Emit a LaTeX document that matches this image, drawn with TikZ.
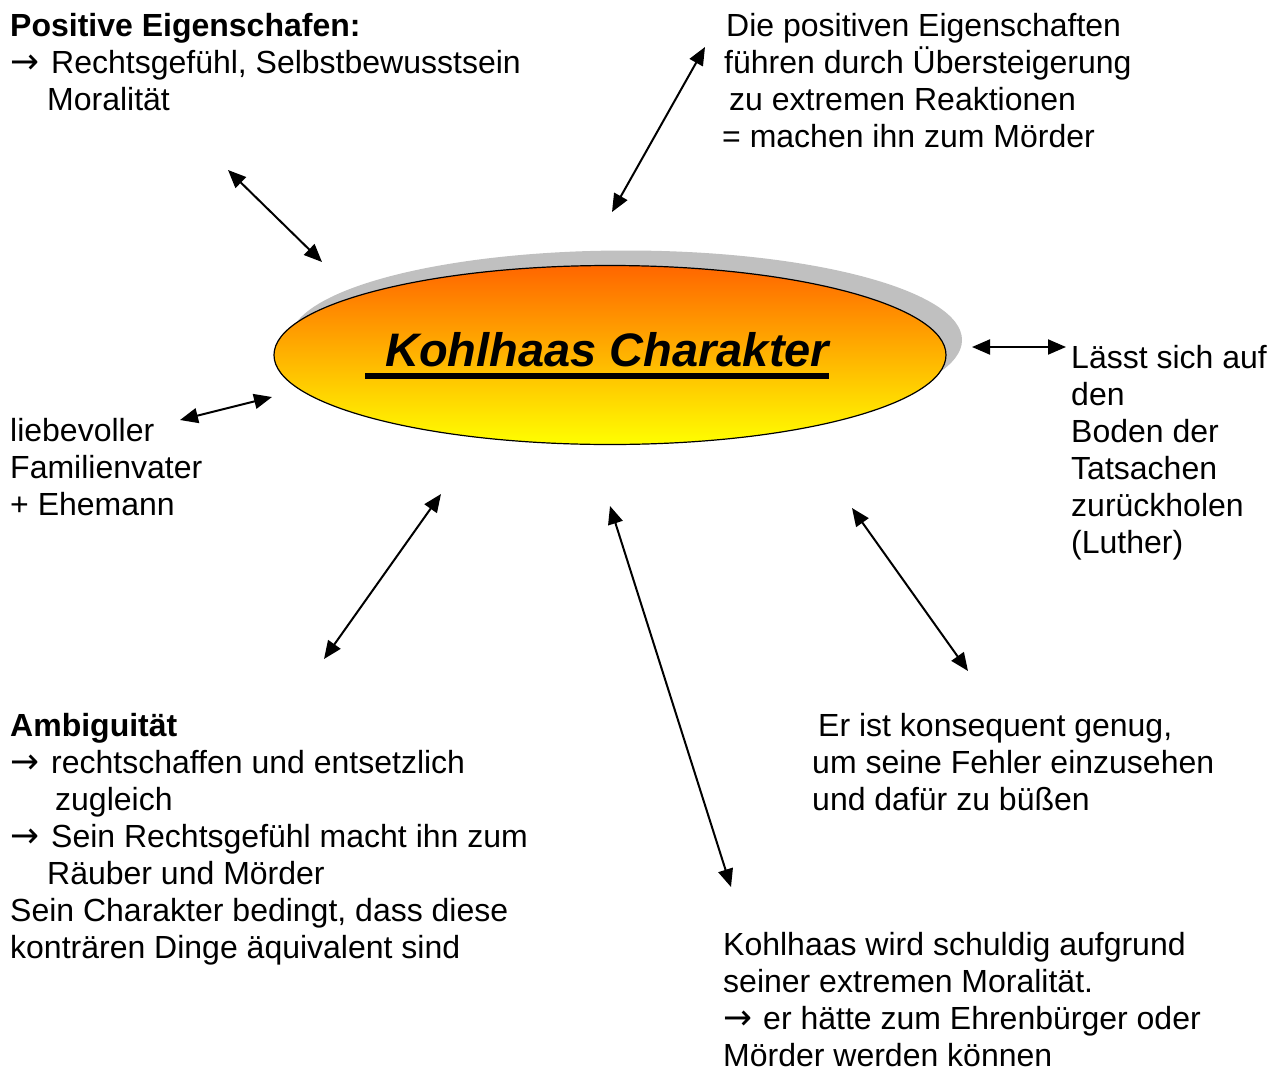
\documentclass[tikz,border=0pt]{standalone}
\usepackage{fontspec}
\setmainfont{Liberation Sans}
\newfontfamily\arrowfont{DejaVu Sans}
\usetikzlibrary{shapes.geometric,arrows.meta,calc}
\definecolor{shadowgray}{RGB}{192,192,192}
\definecolor{topor}{RGB}{255,102,0}
\definecolor{botyel}{RGB}{255,255,0}
\newcommand\txl[1]{\hbox{#1}}
\newcommand\blk[1]{\vtop{\baselineskip=37pt\lineskiplimit=-1000pt\lineskip=0pt #1}}
\newcommand\arrglyph{{\arrowfont\scalebox{1.08}[1.1]{→}}}
\newcommand\arr{\makebox[41pt][l]{\arrglyph}}
\tikzset{
  body/.style={anchor=base west, inner sep=0pt, font=\fontsize{32}{37}\selectfont},
  link/.style={line width=2pt, {Triangle[length=18pt,width=15pt]}-{Triangle[length=18pt,width=15pt]}},
  oval/.style={ellipse, minimum width=672pt, minimum height=179pt, inner sep=0pt},
}
\begin{document}
\begin{tikzpicture}[x=1pt,y=-1pt]
\useasboundingbox[fill=white] (0,0) rectangle (1282,1071);
% central ellipse
\node[oval, fill=shadowgray] (shadow) at (626,340) {};
\node[oval, draw=black, line width=1.2pt, top color=topor, bottom color=botyel] (main) at (610,355) {};
\node[anchor=base west, inner sep=0pt, font=\fontsize{47}{54}\selectfont\bfseries\itshape] (title) at (385,366) {Kohlhaas Charakter};
\draw[line width=6pt] ($(title.base west)+(-20,10)$) coordinate (ulA) -- ($(title.base east)+(0,10)$) coordinate (ulB);
% text blocks
\node[body] (tl) at (10,36) {\blk{\txl{\bfseries Positive Eigenschafen:}\txl{\arr Rechtsgefühl, Selbstbewusstsein}\txl{\hspace*{37pt}Moralität}}};
\node[body] (tr) at (722,36) {\blk{\txl{\hspace*{4pt}Die positiven Eigenschaften}\txl{\hspace*{2pt}führen durch Übersteigerung}\txl{\hspace*{7pt}zu extremen Reaktionen}\txl{= machen ihn zum Mörder}}};
\node[body] (rt) at (1071,368) {\blk{\txl{Lässt sich auf}\txl{den}\txl{Boden der}\txl{Tatsachen}\txl{zurückholen}\txl{(Luther)}}};
\node[body] (lf) at (10,441) {\blk{\txl{liebevoller}\txl{Familienvater}\txl{+ Ehemann}}};
\node[body] (amb) at (10,736) {\blk{\txl{\bfseries Ambiguität}\txl{\arr rechtschaffen und entsetzlich}\txl{\hspace*{45pt}zugleich}\txl{\arr Sein Rechtsgefühl macht ihn zum}\txl{\hspace*{37pt}Räuber und Mörder}\txl{Sein Charakter bedingt, dass diese}\txl{konträren Dinge äquivalent sind}}};
\node[body] (er) at (812,736) {\blk{\txl{\hspace*{6pt}Er ist konsequent genug,}\txl{um seine Fehler einzusehen}\txl{und dafür zu büßen}}};
\node[body] (bt) at (723,955) {\blk{\txl{Kohlhaas wird schuldig aufgrund}\txl{seiner extremen Moralität.}\txl{\makebox[40pt][l]{\arrglyph}er hätte zum Ehrenbürger oder}\txl{Mörder werden können}}};
% arrow end points
\coordinate (a1s) at (228,170); \coordinate (a1e) at (322,262);
\coordinate (a2s) at (705,47);  \coordinate (a2e) at (612,212);
\coordinate (a3s) at (972,347); \coordinate (a3e) at (1066,347);
\coordinate (a4s) at (180,420); \coordinate (a4e) at (272,397);
\coordinate (a5s) at (441,494); \coordinate (a5e) at (324,659);
\coordinate (a6s) at (610,506); \coordinate (a6e) at (731,887);
\coordinate (a7s) at (852,508); \coordinate (a7e) at (968,671);
\draw[link] (a1s) -- (a1e);
\draw[link] (a2s) -- (a2e);
\draw[link] (a3s) -- (a3e);
\draw[link] (a4s) -- (a4e);
\draw[link] (a5s) -- (a5e);
\draw[link] (a6s) -- (a6e);
\draw[link] (a7s) -- (a7e);
\end{tikzpicture}
\end{document}
